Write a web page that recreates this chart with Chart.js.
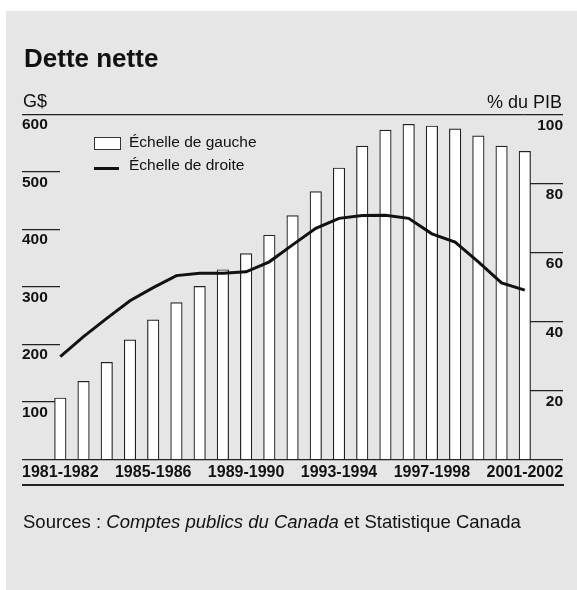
<!DOCTYPE html>
<html lang="fr">
<head>
<meta charset="utf-8">
<script src="https://cdn.jsdelivr.net/npm/chart.js@4.4.1/dist/chart.umd.min.js"></script>
<style>
  html, body { margin: 0; padding: 0; background: #ffffff; }
  body { width: 577px; height: 590px; position: relative; overflow: hidden;
         font-family: "Liberation Sans", Arial, Helvetica, sans-serif; color: #111; }
  #panel { position: absolute; left: 6px; top: 11px; width: 571px; height: 579px; background: #e6e6e6; }
  #cv { position: absolute; left: 0; top: 0; }
  .t { position: absolute; white-space: nowrap; line-height: 1; }
  #title { left: 24px; top: 44.5px; font-size: 26px; font-weight: bold; }
  #gs { left: 23px; top: 91.5px; font-size: 18px; }
  #pib { right: 15px; top: 92.5px; font-size: 18px; }
  #src { left: 23px; top: 512.5px; font-size: 18.5px; }
  #rule { position: absolute; left: 22px; top: 484.4px; width: 542px; height: 1.2px; background: #222; }
  .lg { position: absolute; left: 94px; }
  #lgbox { top: 136.7px; width: 25px; height: 11px; border: 1px solid #333; background: #fff; }
  #lgline { top: 167.3px; width: 25px; height: 3px; background: #111; }
  .lgt { left: 129px; font-size: 15.5px; }
</style>
</head>
<body>
<div id="panel"></div>
<canvas id="cv" width="577" height="590"></canvas>
<div class="t" id="title">Dette nette</div>
<div class="t" id="gs">G$</div>
<div class="t" id="pib">% du PIB</div>
<div class="lg" id="lgbox"></div>
<div class="t lgt" style="top:133.6px">Échelle de gauche</div>
<div class="lg" id="lgline"></div>
<div class="t lgt" style="top:157px">Échelle de droite</div>
<div id="rule"></div>
<div class="t" id="src">Sources : <i>Comptes publics du Canada</i> et Statistique Canada</div>
<script>
// ---- Data ----
const categories = [
  "1981-1982","1982-1983","1983-1984","1984-1985","1985-1986","1986-1987","1987-1988",
  "1988-1989","1989-1990","1990-1991","1991-1992","1992-1993","1993-1994","1994-1995",
  "1995-1996","1996-1997","1997-1998","1998-1999","1999-2000","2000-2001","2001-2002"
];
// Net debt, billions of dollars (left scale)
const netDebt = [107, 136, 169, 208, 243, 273, 301, 330, 358, 390, 424, 466, 507, 545, 573, 583, 580, 575, 563, 545, 536];
// Net debt, % of GDP (right scale)
const debtPctGdp = [29.8, 35.6, 40.9, 46.0, 49.8, 53.3, 54.0, 54.0, 54.4, 57.3, 62.2, 67.0, 69.9, 70.7, 70.8, 69.9, 65.4, 63.0, 57.3, 51.2, 49.1];
// Tick settings
const leftTicks = { min: 0, max: 600, step: 100 };
const rightTicks = { min: 0, max: 100, step: 20 };
const xLabelEvery = 4;

const INK = '#222';
const FAMILY = '"Liberation Sans", Arial, sans-serif';
const yTickFont = { family: FAMILY, size: 15.5, weight: 'bold' };
const xTickFont = { family: FAMILY, size: 16, weight: 'bold' };

new Chart(document.getElementById('cv'), {
  data: {
    labels: categories,
    datasets: [
      {
        type: 'line',
        label: 'Échelle de droite',
        data: debtPctGdp,
        yAxisID: 'y1',
        borderColor: '#111',
        borderWidth: 3,
        pointRadius: 0,
        tension: 0,
        clip: false,
        order: 0
      },
      {
        type: 'bar',
        label: 'Échelle de gauche',
        data: netDebt,
        yAxisID: 'y',
        backgroundColor: '#ffffff',
        borderColor: INK,
        borderWidth: 1.2,
        barThickness: 11.5,
        clip: false,
        order: 1
      }
    ]
  },
  options: {
    responsive: false,
    animation: false,
    devicePixelRatio: 1,
    layout: { padding: { left: 22, right: 14, top: 114.5, bottom: 100.5 } },
    plugins: { legend: { display: false }, title: { display: false }, tooltip: { enabled: false } },
    scales: {
      x: {
        type: 'category',
        offset: false,
        grid: { display: false, drawTicks: false },
        border: { display: false },
        ticks: {
          autoSkip: false, maxRotation: 0, minRotation: 0, padding: 3.5,
          color: '#111', font: xTickFont,
          callback: (v, i) => (i % xLabelEvery === 0 ? categories[i] : '')
        },
        afterFit: s => { s.height = 30; }
      },
      y: {
        position: 'left',
        min: leftTicks.min, max: leftTicks.max,
        border: { display: false },
        grid: {
          drawOnChartArea: true,
          color: c => (c.tick && (c.tick.value === leftTicks.min || c.tick.value === leftTicks.max)) ? INK : 'rgba(0,0,0,0)',
          tickColor: INK,
          lineWidth: 1.2,
          tickLength: 38.3
        },
        ticks: {
          stepSize: leftTicks.step, crossAlign: 'far', labelOffset: 10.5, padding: 0,
          color: '#111', font: yTickFont,
          callback: v => (v === 0 ? '' : v)
        },
        afterFit: s => { s.width = 38.3; }
      },
      y1: {
        position: 'right',
        min: rightTicks.min, max: rightTicks.max,
        border: { display: false },
        grid: {
          drawOnChartArea: false,
          tickColor: INK,
          lineWidth: 1.2,
          tickLength: 38.2
        },
        ticks: {
          stepSize: rightTicks.step, crossAlign: 'far', labelOffset: 11, padding: 0,
          color: '#111', font: yTickFont,
          callback: v => (v === 0 ? '' : v)
        },
        afterFit: s => { s.width = 38.2; }
      }
    }
  }
});
</script>
</body>
</html>
